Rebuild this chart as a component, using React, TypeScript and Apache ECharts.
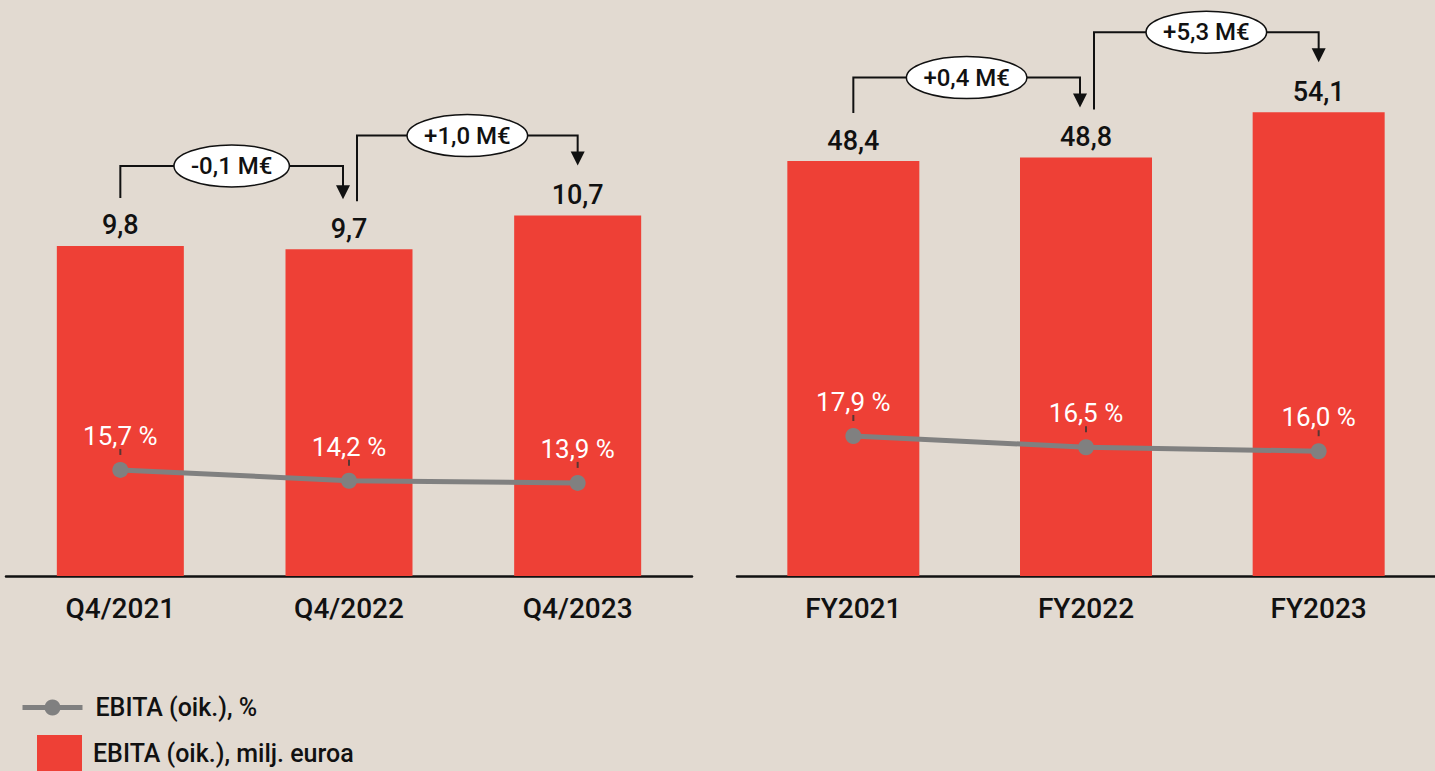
import React, { useEffect, useRef } from "react";
import * as echarts from "echarts";

const quarterCategories = ["Q4/2021", "Q4/2022", "Q4/2023"];
const quarterEbita = [9.8, 9.7, 10.7];
const quarterMargin = [15.7, 14.2, 13.9];
const quarterDeltas = ["-0,1 M€", "+1,0 M€"];

const yearCategories = ["FY2021", "FY2022", "FY2023"];
const yearEbita = [48.4, 48.8, 54.1];
const yearMargin = [17.9, 16.5, 16.0];
const yearDeltas = ["+0,4 M€", "+5,3 M€"];

const barName = "EBITA (oik.), milj. euroa";
const lineName = "EBITA (oik.), %";

const FONT = "Roboto, 'Noto Sans', sans-serif";
const WEIGHT = 500;
const BG = "#e2dad1";
const RED = "#ee4036";
const GRAY = "#808080";

const fmt = (v: number) => v.toFixed(1).replace(".", ",");

export default function App() {
  const ref = useRef<HTMLDivElement>(null);
  useEffect(() => {
    document.body.style.margin = "0";
    document.body.style.background = BG;
    const chart = echarts.init(ref.current!, undefined, { renderer: "svg" });

    const barSeries = (idx: number, data: number[], width: number) => ({
      type: "bar",
      name: barName,
      xAxisIndex: idx,
      yAxisIndex: idx * 2,
      data,
      barWidth: width,
      itemStyle: { color: RED },
      label: {
        show: true,
        position: "top",
        distance: 7,
        color: "#111",
        fontSize: 27,
        fontFamily: FONT,
        fontWeight: WEIGHT,
        formatter: (p: any) => fmt(p.value),
      },
      z: 2,
    });
    const lineSeries = (idx: number, data: number[]) => ({
      type: "line",
      name: lineName,
      xAxisIndex: idx,
      yAxisIndex: idx * 2 + 1,
      data,
      symbol: "circle",
      symbolSize: 16,
      lineStyle: { color: GRAY, width: 5 },
      itemStyle: { color: GRAY },
      label: {
        show: true,
        position: "top",
        distance: 13,
        color: "#fff",
        fontSize: 26,
        fontFamily: FONT,
        fontWeight: 400,
        formatter: (p: any) => fmt(p.value) + " %",
      },
      z: 4,
    });
    const tickSeries = (idx: number, data: number[]) => ({
      type: "scatter",
      name: "tick",
      xAxisIndex: idx,
      yAxisIndex: idx * 2 + 1,
      data,
      symbol: "rect",
      symbolSize: [2, 6],
      symbolOffset: [0, -18],
      itemStyle: { color: "#333" },
      silent: true,
      z: 5,
    });

    const xAxis = (gridIndex: number, data: string[]) => ({
      type: "category",
      gridIndex,
      data,
      axisLine: { show: true, lineStyle: { color: "#111", width: 2.5 } },
      axisTick: { show: false },
      axisLabel: {
        color: "#111",
        fontSize: 28,
        fontFamily: FONT,
        fontWeight: WEIGHT,
        margin: 18,
      },
    });
    const hiddenY = (gridIndex: number, min: number, max: number) => ({
      type: "value",
      gridIndex,
      min,
      max,
      show: false,
      splitLine: { show: false },
    });

    const legendText = { fontSize: 25, fontFamily: FONT, fontWeight: WEIGHT, color: "#111" };
    const option: any = {
      animation: false,
      backgroundColor: BG,
      grid: [
        { left: 6, top: 0, width: 686, height: 576 },
        { left: 737, top: 0, width: 714, height: 576 },
      ],
      xAxis: [xAxis(0, quarterCategories), xAxis(1, yearCategories)],
      yAxis: [
        hiddenY(0, 0, 17.1),
        hiddenY(0, 0.97, 80.97),
        hiddenY(1, 0, 67.18),
        hiddenY(1, 0.4, 72.4),
      ],
      legend: [
        {
          data: [lineName],
          left: 20,
          top: 695,
          padding: 0,
          itemWidth: 60,
          itemHeight: 20,
          lineStyle: { width: 5, color: GRAY },
          itemStyle: { color: GRAY },
          textStyle: { ...legendText, padding: [0, 0, 0, 8] },
        },
        {
          data: [{ name: barName, icon: "rect" }],
          left: 37,
          top: 735,
          padding: 0,
          itemWidth: 45,
          itemHeight: 36,
          textStyle: { ...legendText, padding: [0, 0, 0, 6] },
        },
      ],
      series: [
        barSeries(0, quarterEbita, 127),
        lineSeries(0, quarterMargin),
        tickSeries(0, quarterMargin),
        barSeries(1, yearEbita, 132),
        lineSeries(1, yearMargin),
        tickSeries(1, yearMargin),
      ],
    };
    chart.setOption(option);

    const canvas = document.createElement("canvas");
    const ctx = canvas.getContext("2d")!;
    const annFont = `${WEIGHT} 24px ${FONT}`;
    ctx.font = annFont;

    const graphics: any[] = [];
    const addBrackets = (idx: number, values: number[], deltas: string[]) => {
      const pts = values.map((v, i) =>
        chart.convertToPixel({ xAxisIndex: idx, yAxisIndex: idx * 2 }, [i, v]) as number[]
      );
      deltas.forEach((label, j) => {
        const a = pts[j];
        const b = pts[j + 1];
        const last = j === deltas.length - 1;
        const sx = a[0] + (j === 0 ? 0 : 8);
        const ex = b[0] - (last ? 0 : 6);
        const yH = Math.min(a[1], b[1]) - 80;
        const sBottom = a[1] - 48;
        const tip = b[1] - 50;
        graphics.push({
          type: "polyline",
          shape: { points: [[sx, sBottom], [sx, yH], [ex, yH], [ex, tip - 10]] },
          style: { stroke: "#111", lineWidth: 2, fill: null },
          z: 10,
        });
        graphics.push({
          type: "polygon",
          shape: { points: [[ex - 7, tip - 14], [ex + 7, tip - 14], [ex, tip]] },
          style: { fill: "#111" },
          z: 10,
        });
        const w = ctx.measureText(label).width;
        const cx = (sx + ex) / 2;
        graphics.push({
          type: "ellipse",
          shape: { cx, cy: yH, rx: w / 2 + 17, ry: 21 },
          style: { fill: "#fff", stroke: "#111", lineWidth: 1.5 },
          z: 11,
        });
        graphics.push({
          type: "text",
          x: cx,
          y: yH,
          style: {
            text: label,
            font: annFont,
            fill: "#111",
            align: "center",
            verticalAlign: "middle",
          },
          z: 12,
        });
      });
    };
    addBrackets(0, quarterEbita, quarterDeltas);
    addBrackets(1, yearEbita, yearDeltas);
    chart.setOption({ graphic: graphics });

    return () => chart.dispose();
  }, []);
  return <div ref={ref} style={{ width: 1435, height: 771 }} />;
}
